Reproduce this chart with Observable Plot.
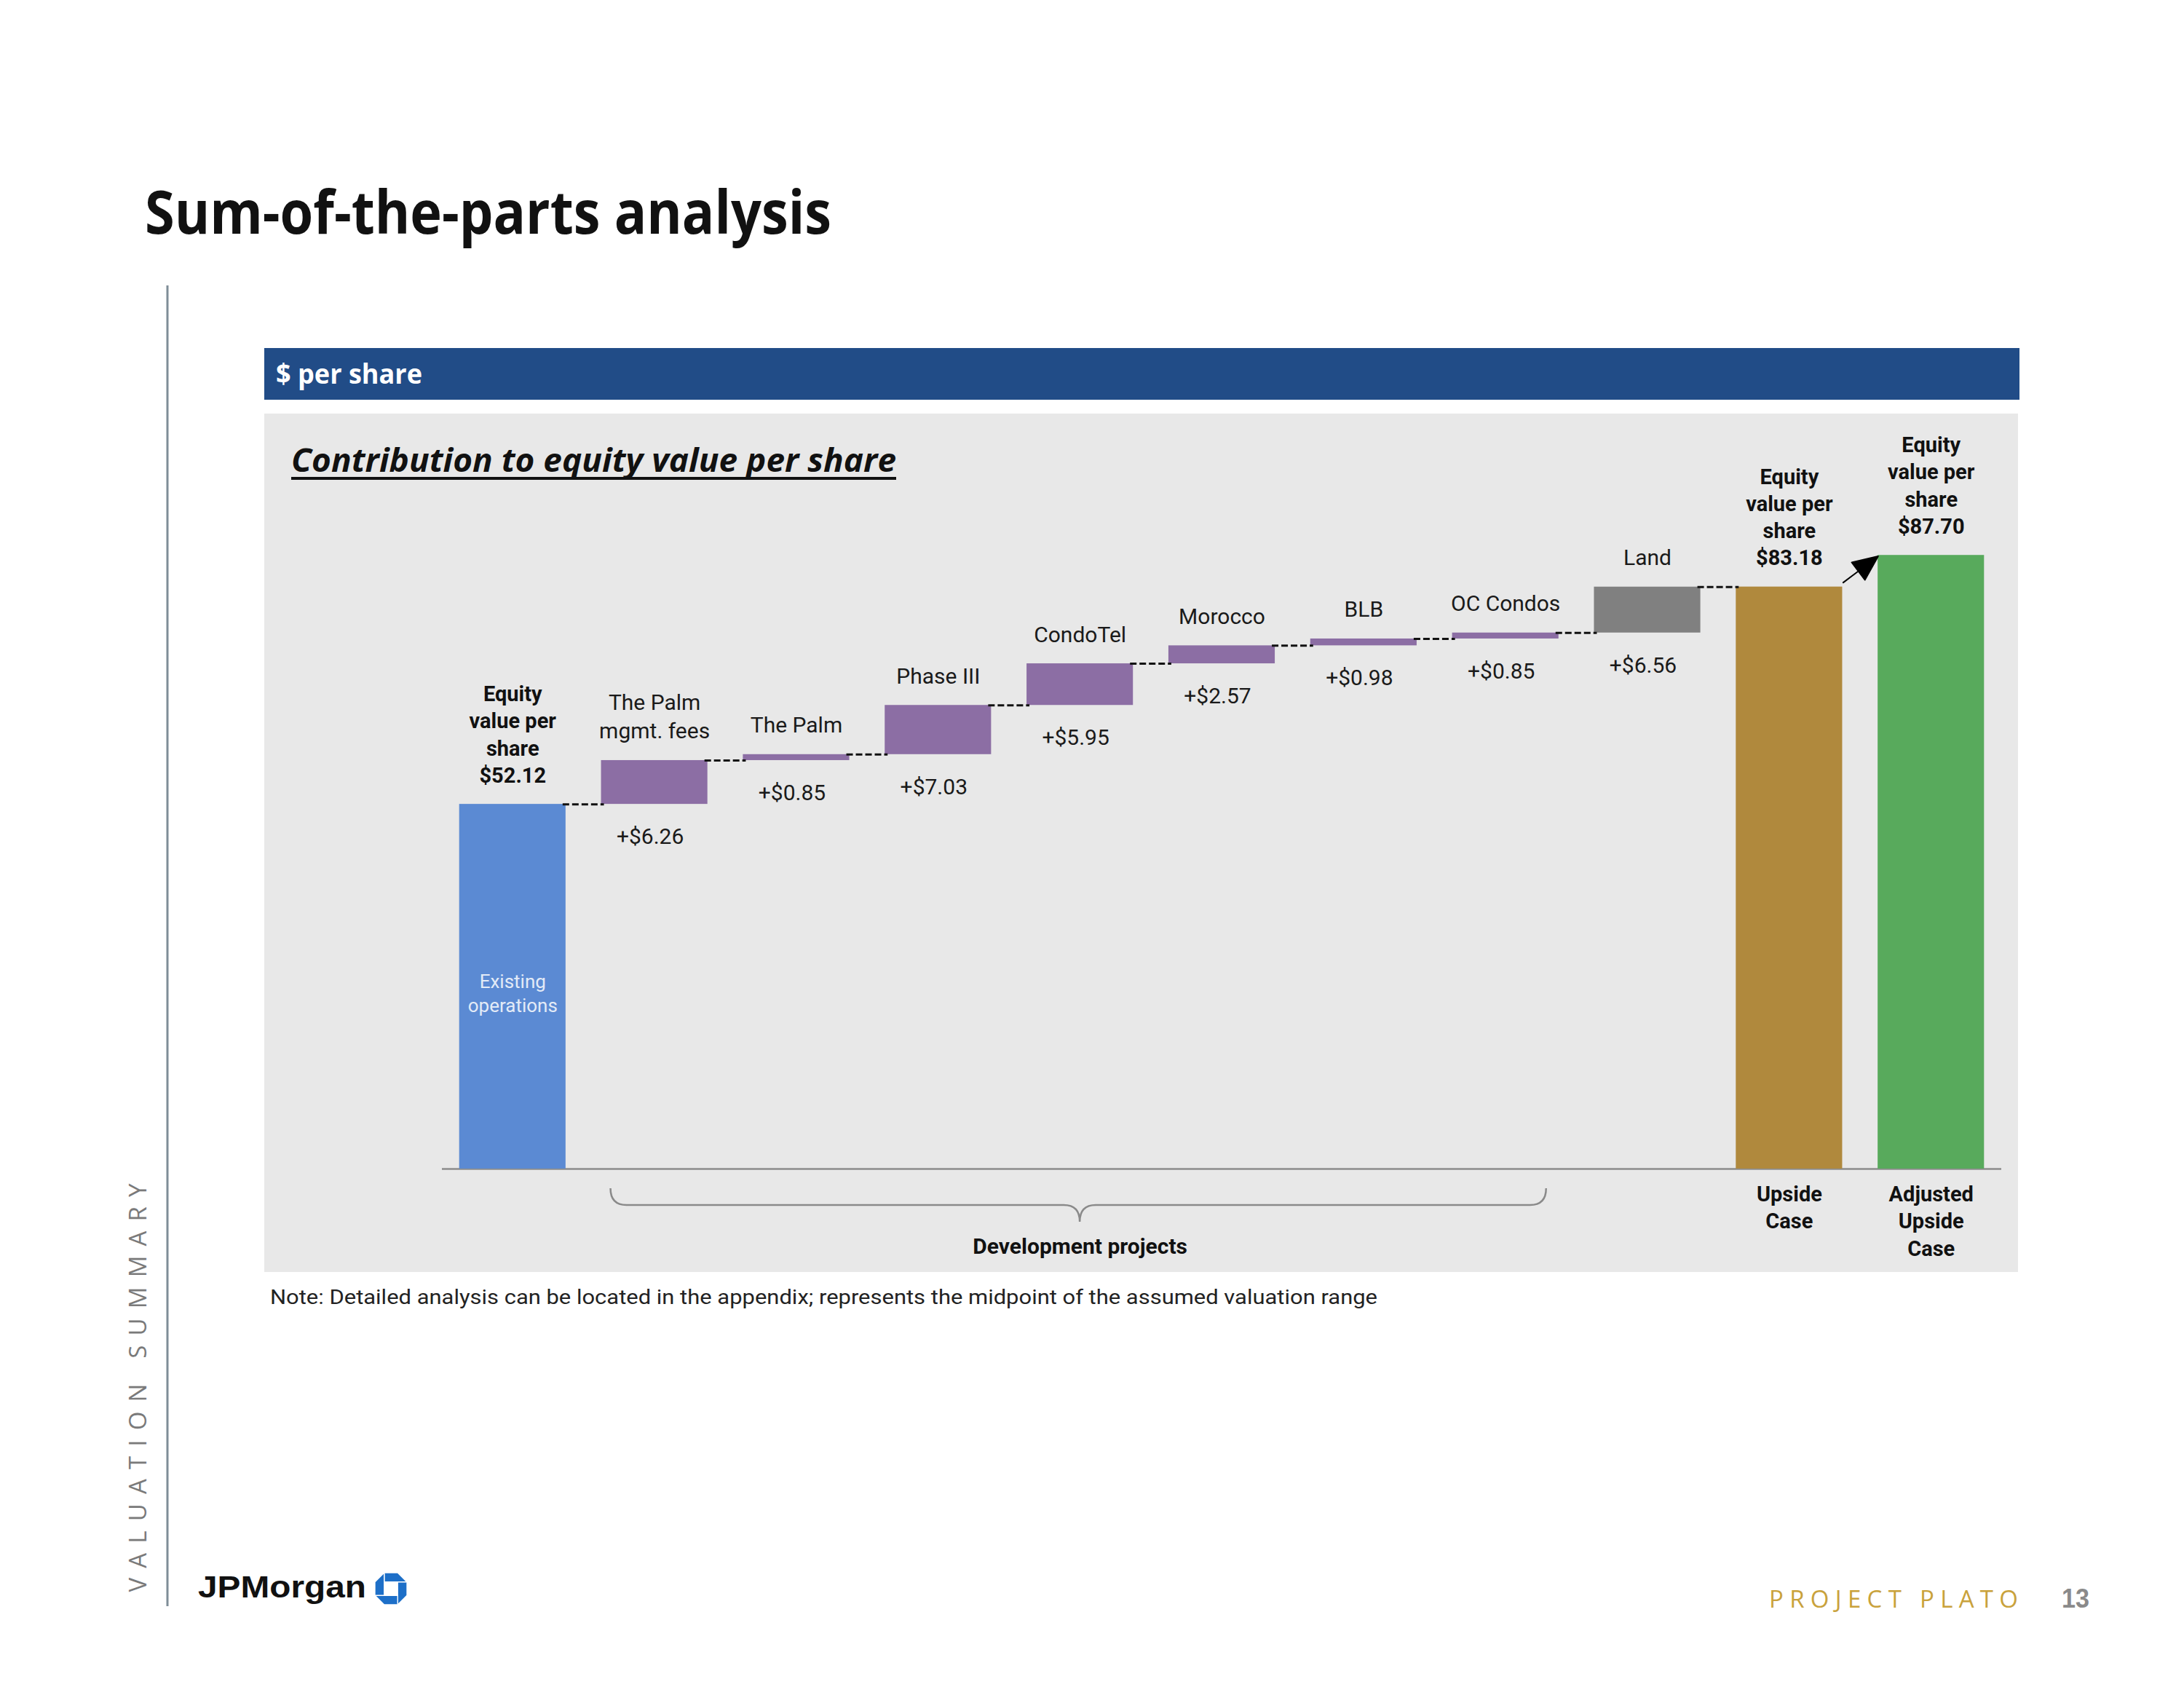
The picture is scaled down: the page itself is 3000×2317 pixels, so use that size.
<!DOCTYPE html>
<html>
<head>
<meta charset="utf-8">
<script src="https://cdn.jsdelivr.net/npm/d3@7"></script>
<script src="https://cdn.jsdelivr.net/npm/@observablehq/plot@0.6"></script>
<style>
  html, body { margin: 0; padding: 0; background: #fff; }
  #page { position: relative; width: 3000px; height: 2317px; overflow: hidden; background: #fff; }
  #decor { position: absolute; left: 0; top: 0; }
  #chart { position: absolute; left: 363px; top: 568px; }
</style>
</head>
<body>
<div id="page">
  <svg id="decor" width="3000" height="2317"></svg>
  <div id="chart"></div>
</div>
<script>
// ---------------- DATA ----------------
const categories = ["Existing operations", "The Palm mgmt. fees", "The Palm", "Phase III", "CondoTel",
  "Morocco", "BLB", "OC Condos", "Land", "Upside Case", "Adjusted Upside Case"];
const values = [52.12, 6.26, 0.85, 7.03, 5.95, 2.57, 0.98, 0.85, 6.56, 83.18, 87.70];
const kinds = ["base", "project", "project", "project", "project", "project", "project", "project",
  "land", "upside", "adjusted"];
const topLabels = ["Equity\nvalue per\nshare\n$52.12", "The Palm\nmgmt. fees", "The Palm", "Phase III",
  "CondoTel", "Morocco", "BLB", "OC Condos", "Land",
  "Equity\nvalue per\nshare\n$83.18", "Equity\nvalue per\nshare\n$87.70"];
const insideLabels = ["Existing\noperations", "", "", "", "", "", "", "", "", "", ""];
const bottomLabels = ["", "", "", "", "", "", "", "", "", "Upside\nCase", "Adjusted\nUpside\nCase"];
const groupLabel = "Development projects";

const titleText = "Sum-of-the-parts analysis";
const headerText = "$ per share";
const subtitleText = "Contribution to equity value per share";
const noteText = "Note: Detailed analysis can be located in the appendix; represents the midpoint of the assumed valuation range";
const sideText = "VALUATION SUMMARY";
const footerText = "PROJECT PLATO";
const pageNumber = "13";
const logoText = "JPMorgan";

// ---------------- DERIVED ROWS ----------------
let run = 0;
const rows = categories.map((cat, i) => {
  const total = !(kinds[i] === "project" || kinds[i] === "land");
  const y1 = total ? 0 : run;
  const y2 = total ? values[i] : run + values[i];
  run = y2;
  return {cat, i, kind: kinds[i], total, value: values[i], y1, y2,
    top: topLabels[i], inside: insideLabels[i], bottom: bottomLabels[i]};
});
const steps = rows.filter(d => !d.total);
const totals = rows.filter(d => d.total);
const connectors = rows.slice(0, rows.length - 2).map((d, i) => ({from: d.cat, to: rows[i + 1].cat, y: d.y2}));
const projectCats = rows.filter(d => d.kind === "project").map(d => d.cat);
const groupCat = projectCats[Math.floor(projectCats.length / 2)];

// ---------------- DECOR (page furniture) ----------------
const decor = d3.select("#decor");
decor.append("line").attr("x1", 230).attr("x2", 230).attr("y1", 392).attr("y2", 2206)
  .attr("stroke", "#7f8d98").attr("stroke-width", 3);
decor.append("rect").attr("x", 363).attr("y", 478).attr("width", 2411).attr("height", 71).attr("fill", "#214c87");
decor.append("rect").attr("x", 363).attr("y", 568).attr("width", 2409).attr("height", 1179).attr("fill", "#e8e8e8");

function txt(s, o) {
  const t = decor.append("text").text(s)
    .attr("x", o.x).attr("y", o.y)
    .attr("font-family", o.family || "Roboto, sans-serif")
    .attr("font-size", o.size)
    .attr("font-weight", o.weight || "normal")
    .attr("font-style", o.style || "normal")
    .attr("fill", o.fill || "#111");
  if (o.len) t.attr("textLength", o.len).attr("lengthAdjust", o.adjust || "spacingAndGlyphs");
  if (o.anchor) t.attr("text-anchor", o.anchor);
  if (o.transform) t.attr("transform", o.transform);
  return t;
}
txt(titleText, {x: 199, y: 321, size: 82, weight: "bold", family: "'Open Sans', sans-serif", len: 943});
txt(headerText, {x: 379, y: 527, size: 38, weight: "bold", family: "'Open Sans', sans-serif", fill: "#fff", len: 201});
txt(subtitleText, {x: 400, y: 648, size: 44, weight: "bold", style: "italic", family: "'Open Sans', sans-serif", len: 831});
decor.append("line").attr("x1", 400).attr("x2", 1231).attr("y1", 657).attr("y2", 657).attr("stroke", "#111").attr("stroke-width", 4);
txt(noteText, {x: 371, y: 1791, size: 28, fill: "#222", len: 1521});
txt(sideText, {x: 0, y: 0, size: 33, fill: "#7a7a7a", family: "'Open Sans', sans-serif", len: 561, adjust: "spacing",
  anchor: "middle", transform: "translate(201,1906) rotate(-90)"});
txt(logoText, {x: 272, y: 2194, size: 42, weight: "bold", family: "'Liberation Sans', Arial, sans-serif", len: 231});
txt(footerText, {x: 2430, y: 2208, size: 33, fill: "#c9a23c", family: "'Open Sans', sans-serif", len: 342, adjust: "spacing"});
txt(pageNumber, {x: 2832, y: 2208, size: 36, weight: "bold", fill: "#8a8a8a", family: "'Liberation Sans', Arial, sans-serif", len: 38});

// Chase octagon logo
const logo = decor.append("g").attr("transform", "translate(515,2160) scale(0.44)");
const piece = "M29,0 L71,0 L100,29 L29,29 Z";
[0, 90, 180, 270].forEach(a => logo.append("path").attr("d", piece)
  .attr("transform", `rotate(${a},50,50)`).attr("fill", "#1d6fc8").attr("stroke", "#fff").attr("stroke-width", 3));

// ---------------- CHART ----------------
const W = 2411, H = 1179, ML = 219, MR = 0, MT = 76, MB = 142, PAD = 0.25;
const stepPx = (W - ML - MR) / (categories.length - PAD + 2 * PAD);
const bw = stepPx * (1 - PAD);

const arrowShape = {
  draw(ctx, l) {
    const h = 34, w = 15;
    ctx.moveTo(0, 0);
    ctx.lineTo(0, -(l - h));
    ctx.moveTo(-w, -(l - h));
    ctx.lineTo(0, -l);
    ctx.lineTo(w, -(l - h));
    ctx.closePath();
  }
};

function brace(index, scales) {
  const x0 = scales.x(projectCats[0]) + 13;
  const x1 = scales.x(projectCats[projectCats.length - 1]) + bw - 17;
  const xm = scales.x(groupCat) + bw / 2;
  const y0 = scales.y(0);
  const p = d3.path();
  p.moveTo(x0, y0 + 27);
  p.quadraticCurveTo(x0, y0 + 50, x0 + 22, y0 + 50);
  p.lineTo(xm - 22, y0 + 50);
  p.quadraticCurveTo(xm, y0 + 50, xm, y0 + 73);
  p.quadraticCurveTo(xm, y0 + 50, xm + 22, y0 + 50);
  p.lineTo(x1 - 22, y0 + 50);
  p.quadraticCurveTo(x1, y0 + 50, x1, y0 + 27);
  const g = d3.create("svg:path").attr("d", p.toString()).attr("fill", "none")
    .attr("stroke", "#8a8a8a").attr("stroke-width", 2.5);
  return g.node();
}

const chart = Plot.plot({
  width: W, height: H,
  marginLeft: ML, marginRight: MR, marginTop: MT, marginBottom: MB,
  x: {domain: categories, padding: PAD, round: false, axis: null},
  y: {domain: [0, 100], axis: null},
  color: {domain: ["base", "project", "land", "upside", "adjusted"],
          range: ["#5b8ad3", "#8c6ea4", "#808080", "#b0893d", "#58aa5c"]},
  style: {background: "transparent", fontFamily: "Roboto, sans-serif", overflow: "visible", color: "#111"},
  marks: [
    Plot.ruleY([0], {stroke: "#8c8c8c", strokeWidth: 2.5, insetLeft: 25, insetRight: 25}),
    Plot.barY(rows, {x: "cat", y1: "y1", y2: "y2", fill: "kind"}),
    Plot.ruleY(connectors, {x1: "from", x2: "to", y: "y", insetLeft: bw - 4, insetRight: bw - 4,
      stroke: "#111", strokeWidth: 3, strokeDasharray: "9,4"}),
    Plot.vector([rows[rows.length - 2]], {x: "cat", y: "y2", length: 60, rotate: 53, anchor: "start",
      shape: arrowShape, stroke: "#000", fill: "#000", strokeWidth: 2, dx: 74, dy: -6}),
    brace,
    Plot.text(totals, {x: "cat", y: "y2", text: "top", lineAnchor: "bottom", dy: -30,
      fontWeight: "bold", fontSize: 29, lineHeight: 1.28, fill: "#111"}),
    Plot.text(steps, {x: "cat", y: "y2", text: "top", lineAnchor: "bottom", dy: -30,
      fontSize: 30, lineHeight: 1.3, fill: "#1a1a1a"}),
    Plot.text(steps, {x: "cat", y: "y1", text: d => "+$" + d.value.toFixed(2), lineAnchor: "top",
      dy: 33, dx: -6, fontSize: 30, fill: "#1a1a1a"}),
    Plot.text(rows.filter(d => d.inside), {x: "cat", y: d => (d.y1 + d.y2) / 2, text: "inside",
      dy: 8, fontSize: 26, lineHeight: 1.27, fill: "#e3ebf7"}),
    Plot.text(rows.filter(d => d.bottom), {x: "cat", y: 0, text: "bottom", lineAnchor: "top", dy: 18,
      fontWeight: "bold", fontSize: 29, lineHeight: 1.29, fill: "#111"}),
    Plot.text([groupLabel], {x: () => groupCat, y: () => 0, text: d => d, dy: 107,
      fontWeight: "bold", fontSize: 30, fill: "#111"})
  ]
});
document.getElementById("chart").appendChild(chart);
</script>
</body>
</html>
